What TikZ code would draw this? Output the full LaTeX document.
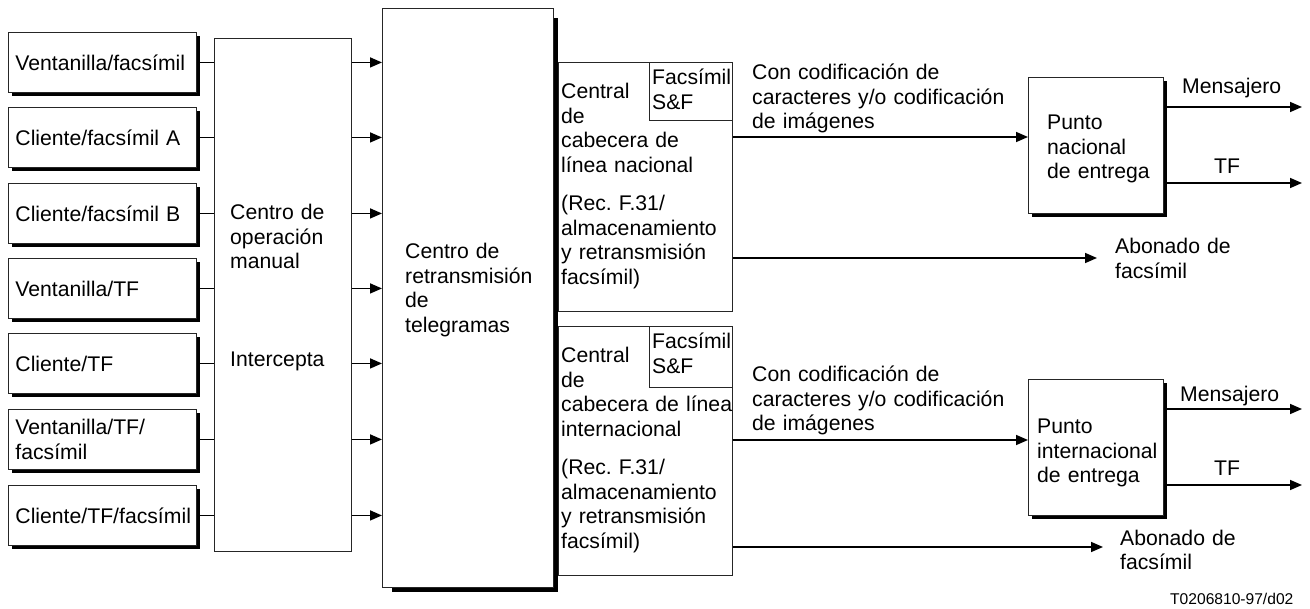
\documentclass[tikz,border=0pt]{standalone}
\usepackage{fontspec}
\setmainfont{Liberation Sans}
\usetikzlibrary{arrows.meta}
\frenchspacing
\newcommand\boxshadow[3]{%
  \fill ([xshift=#2pt]#1.south west) rectangle ([xshift=#3pt,yshift=-#3pt]#1.south east);
  \fill ([yshift=-#2pt]#1.north east) rectangle ([xshift=#3pt,yshift=-#3pt]#1.south east);}
\begin{document}
\begin{tikzpicture}[x=1pt,y=-1pt,
  font=\fontsize{21.2}{24.5}\selectfont,
  box/.style={draw=black!85, line width=0.9pt, fill=white, inner sep=0pt, anchor=north west},
  lbox/.style={box, minimum width=188pt, minimum height=60pt, text width=174pt, inner xsep=7pt, inner ysep=0pt, align=left},
  txt/.style={anchor=base west, inner sep=0pt, text width=#1, align=left},
  txt/.default=400pt,
  link/.style={line width=1.6pt},
  arr/.style={link, -{Triangle[length=12pt,width=10pt]}}]
\fill[white] (0,0) rectangle (1310,609);
\useasboundingbox (0,0) rectangle (1310,609);

% left input boxes
\node[lbox] (l1) at (8,32)  {Ventanilla/facsímil};
\node[lbox] (l2) at (8,107) {Cliente/facsímil A};
\node[lbox] (l3) at (8,183) {Cliente/facsímil B};
\node[lbox] (l4) at (8,258) {Ventanilla/TF};
\node[lbox] (l5) at (8,333) {Cliente/TF};
\node[lbox] (l6) at (8,409) {Ventanilla/TF/\\facsímil};
\node[lbox] (l7) at (8,485) {Cliente/TF/facsímil};
\foreach \n in {l1,l2,l3,l4,l5,l6,l7}{\boxshadow{\n}{4}{3}}

% manual operation centre
\node[box, minimum width=137pt, minimum height=513pt] (op) at (214,38) {};
\node[txt] (opt) at (230,220) {Centro de\\operación\\manual};
\node[txt] (opi) at (230,367) {Intercepta};

% telegram retransmission centre
\node[box, minimum width=171pt, minimum height=579pt] (ctr) at (382,8) {};
\boxshadow{ctr}{10}{4}
\node[txt] (ctrt) at (405,259) {Centro de\\retransmisión\\de\\telegramas};

% national head-end
\node[box, minimum width=174pt, minimum height=249pt] (nac) at (558,62) {};
\node[box, minimum width=83pt, minimum height=58pt] (sf1) at (649,62) {};
\node[txt] (sf1t) at (652,85) {Facsímil\\S\&F};
\node[txt] (nact) at (561,99) {Central\\de\\cabecera de\\línea nacional};
\node[txt] (nacr) at (561,211) {(Rec. F.31/\\almacenamiento\\y retransmisión\\facsímil)};

% international head-end
\node[box, minimum width=174pt, minimum height=249pt] (int) at (558,326) {};
\node[box, minimum width=83pt, minimum height=61pt] (sf2) at (649,326) {};
\node[txt] (sf2t) at (652,349) {Facsímil\\S\&F};
\node[txt] (intt) at (561,363) {Central\\de\\cabecera de línea\\internacional};
\node[txt] (intr) at (561,475) {(Rec. F.31/\\almacenamiento\\y retransmisión\\facsímil)};

% delivery points
\node[box, minimum width=135pt, minimum height=136pt] (pn) at (1028,77) {};
\boxshadow{pn}{4}{3}
\node[txt] (pnt) at (1047,130) {Punto\\nacional\\de entrega};
\node[box, minimum width=135pt, minimum height=136pt] (pi) at (1028,379) {};
\boxshadow{pi}{4}{3}
\node[txt] (pit) at (1037,434) {Punto\\internacional\\de entrega};

% level coordinates
\coordinate (y1) at (0,137);
\coordinate (y2) at (0,258);
\coordinate (y3) at (0,440);
\coordinate (y4) at (0,547);
\coordinate (m1) at (0,107);
\coordinate (t1) at (0,183);
\coordinate (m2) at (0,409);
\coordinate (t2) at (0,485);
\coordinate (ab1) at (1097,258);
\coordinate (ab2) at (1103,547);
\coordinate (me1) at (1302,107);
\coordinate (tf1) at (1302,183);
\coordinate (me2) at (1302,409);
\coordinate (tf2) at (1302,485);

% inputs to manual centre and on to retransmission centre
\foreach \n in {l1,l2,l3,l4,l5,l6,l7}{
  \draw[link] (\n.east) -- (\n.east -| op.west);
  \draw[arr] (op.east |- \n.east) -- (ctr.west |- \n.east);
}

% outputs
\draw[arr] (nac.east |- y1) -- (pn.west |- y1);
\draw[arr] (nac.east |- y2) -- (ab1);
\draw[arr] (int.east |- y3) -- (pi.west |- y3);
\draw[arr] (int.east |- y4) -- (ab2);
\draw[arr] (pn.east |- m1) -- (me1);
\draw[arr] (pn.east |- t1) -- (tf1);
\draw[arr] (pi.east |- m2) -- (me2);
\draw[arr] (pi.east |- t2) -- (tf2);

% labels
\node[txt] (cc1) at (752,80) {Con codificación de\\caracteres y/o codificación\\de imágenes};
\node[txt] (cc2) at (752,382) {Con codificación de\\caracteres y/o codificación\\de imágenes};
\node[txt] (abn1) at (1115,254) {Abonado de\\facsímil};
\node[txt] (abn2) at (1120,545) {Abonado de\\facsímil};
\node[txt] (men1) at (1182,94) {Mensajero};
\node[txt] (tfl1) at (1214,174) {TF};
\node[txt] (men2) at (1180,402) {Mensajero};
\node[txt] (tfl2) at (1214,476) {TF};
\node[anchor=base west, inner sep=0pt, font=\fontsize{15.6}{18}\selectfont] (ref) at (1170,604.5) {T0206810-97/d02};
\end{tikzpicture}
\end{document}
